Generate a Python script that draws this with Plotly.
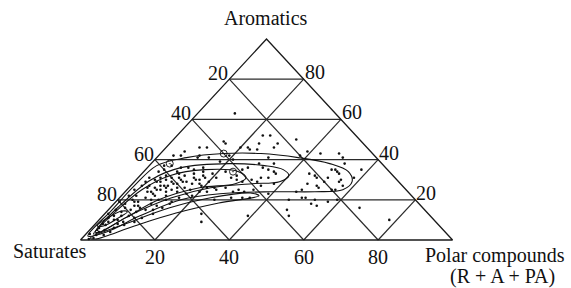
import plotly.graph_objects as go

# ---------------- data (percent) ----------------
tick_values = [20, 40, 60, 80]
tick_labels = ["20", "40", "60", "80"]

axis_saturates = "Saturates"
axis_aromatics = "Aromatics"
axis_polar_1 = "Polar compounds"
axis_polar_2 = "(R + A + PA)"

# samples: polar compounds and aromatics content (%), saturates = remainder
polar = [10, 23, 25, 29, 33, 14, 9, 11, 22, 25, 39, 43, 4, 6, 11, 19, 30, 38,
         24, 29, 20, 15, 23, 48, 52, 58, 50, 58, 45, 47, 51, 50, 51, 52, 53,
         55, 57, 50, 51, 47, 55, 56, 47, 48, 51, 55, 46, 49, 50, 53, 55, 59,
         48, 50, 29, 33, 35, 36, 33, 35, 31, 33, 38, 26, 26, 27, 31, 33, 24,
         30, 34, 30, 39, 46, 35, 53, 57, 39, 67, 78, 6, 11, 14, 6, 9, 11, 13,
         15, 17, 19, 21, 22, 25, 27, 29, 35, 17, 16, 14, 11, 9, 10, 13, 21,
         23, 26, 29, 32, 22, 20, 33, 26, 28, 4, 4, 7, 3, 6, 8, 10, 3, 2, 6, 8,
         12, 2, 1, 3, 5, 2, 4, 6, 2, 4, 3, 2, 3, 5, 6, 6, 8, 11, 13, 14, 15, 3,
         2, 6, 14, 12, 17, 9, 7, 16, 26, 7, 10, 2, 5, 9, 5, 7, 9, 11, 4, 7, 10,
         12, 5, 8, 3, 1, 7, 12, 15, 18, 19, 16, 18, 21,
         3, 5, 8, 10, 12, 14, 16, 18, 20, 5, 8, 10, 12, 15, 17, 19, 4, 6, 9,
         11, 13, 15, 4, 6, 8, 10, 12, 3, 5, 7, 9, 2, 4, 6, 1, 3, 7, 9, 11, 13]
aromatics = [63, 52, 52, 48, 50, 49, 46, 46, 46, 45, 44, 43, 42, 42, 42, 42, 41,
             42, 48, 46, 46, 48, 45, 43, 38, 35, 41, 31, 33, 32, 31, 35, 35, 34,
             33, 29, 27, 27, 26, 28, 25, 25, 25, 31, 29, 30, 24, 21, 21, 20, 17,
             20, 15, 12, 38, 35, 34, 33, 31, 31, 30, 29, 28, 35, 32, 36, 36, 38,
             25, 25, 25, 21, 23, 20, 21, 18, 19, 12, 16, 10, 44, 41, 41, 37, 36,
             36, 35, 36, 32, 33, 31, 34, 31, 30, 29, 27, 30, 28, 29, 31, 31, 27,
             26, 26, 26, 26, 24, 24, 24, 24, 21, 13, 9, 37, 34, 32, 31, 29, 27,
             29, 27, 25, 24, 23, 22, 22, 19, 18, 19, 15, 14, 15, 11, 10, 7.5, 5,
             2.5, 2.5, 4, 6, 7.5, 11, 13, 16, 18, 1, 0.5, 31, 24, 32, 25, 20, 17,
             21, 20, 12, 9, 6, 35, 34, 27, 26, 25, 24, 22, 21, 18, 17, 12, 14, 9,
             13, 29, 28, 31, 28, 27, 34, 39, 40,
             29, 30, 30, 33, 30, 33, 30, 31, 29, 26, 25, 26, 25, 26, 23, 22, 20,
             19, 22, 20, 20, 19, 16, 17, 16, 15, 15, 12, 10, 9, 11, 8, 5, 8, 3, 4,
             24, 27, 28, 29]
saturates = [100 - a - p for a, p in zip(aromatics, polar)]

# group means (circled symbols)
mean_polar = [5, 17, 24]
mean_aromatics = [38, 43, 34]

# contour loops (polar %, aromatics %)
loop_a_polar = [1, 1, 1, 2, 8, 17, 27, 38, 48, 55, 58.5, 58, 51, 39, 26, 17, 10, 5]
loop_a_arom = [2, 15, 27, 37, 41, 43, 43, 41, 38, 34, 29, 25, 24, 24, 23, 20, 12, 4]

loop_b_polar = [2, 2, 4, 9, 21, 31, 37, 40, 39, 32, 22, 14, 7, 3.4]
loop_b_arom = [4, 17, 30, 36, 38, 37, 35, 32, 29, 28, 26, 21, 12, 4]

loop_c_polar = [2, 2.4, 4, 8, 16, 25.5, 29, 27.6, 19, 11, 6.6, 3]
loop_c_arom = [3, 14, 25, 32, 35, 34, 31, 28, 26, 20, 11, 3.5]

loop_d_polar = [2.2, 9, 16, 24.5, 34, 37, 28, 19, 11, 3.8]
loop_d_arom = [1, 9, 16, 21, 23.4, 22, 18.4, 13.4, 7, 0.5]

loop_e_polar = [1, 2, 4, 5.6, 4.7, 2.7]
loop_e_arom = [7, 11.4, 14.4, 14, 11, 7]

loops = [(loop_a_polar, loop_a_arom), (loop_b_polar, loop_b_arom),
         (loop_c_polar, loop_c_arom), (loop_d_polar, loop_d_arom),
         (loop_e_polar, loop_e_arom)]


# ---------------- helpers ----------------
def to_xy(sat, aro, pol):
    tot = sat + aro + pol
    return (pol + aro / 2.0) / tot, aro / tot


def pts_xy(pols, aros):
    xs, ys = [], []
    for p, a in zip(pols, aros):
        x, y = to_xy(100 - p - a, a, p)
        xs.append(x)
        ys.append(y)
    return xs, ys


FONT = "Liberation Serif"
INK = "#111111"

fig = go.Figure()

# triangular grid
gx, gy = [], []
for t in tick_values:
    segs = [((100 - t, t, 0), (0, t, 100 - t)),      # constant aromatics
            ((100 - t, 0, t), (0, 100 - t, t)),      # constant polar
            ((t, 0, 100 - t), (t, 100 - t, 0))]      # constant saturates
    for a, b in segs:
        x0, y0 = to_xy(*a)
        x1, y1 = to_xy(*b)
        gx += [x0, x1, None]
        gy += [y0, y1, None]
fig.add_trace(go.Scatter(x=gx, y=gy, mode="lines",
                         line=dict(color="#2a2a2a", width=1.2),
                         hoverinfo="skip", showlegend=False))

# outer triangle
verts = [(100, 0, 0), (0, 0, 100), (0, 100, 0), (100, 0, 0)]
tx, ty = zip(*[to_xy(*v) for v in verts])
fig.add_trace(go.Scatter(x=list(tx), y=list(ty), mode="lines",
                         line=dict(color="#1a1a1a", width=1.3),
                         hoverinfo="skip", showlegend=False))

# contour loops
for lp, la in loops:
    xs, ys = pts_xy(lp + [lp[0]], la + [la[0]])
    fig.add_trace(go.Scatter(x=xs, y=ys, mode="lines",
                             line=dict(color=INK, width=1.1, shape="spline", smoothing=1.0),
                             hoverinfo="skip", showlegend=False))

# samples
sx, sy = [], []
for s, a, p in zip(saturates, aromatics, polar):
    x, y = to_xy(s, a, p)
    sx.append(x)
    sy.append(y)
fig.add_trace(go.Scatter(x=sx, y=sy, mode="markers",
                         marker=dict(color=INK, size=2.6),
                         showlegend=False))

# group means
mx, my = pts_xy(mean_polar, mean_aromatics)
fig.add_trace(go.Scatter(x=mx, y=my, mode="markers",
                         marker=dict(symbol="circle-open-dot", color=INK, size=7,
                                     line=dict(width=0.9, color=INK)),
                         showlegend=False))

# ---------------- labels ----------------
ann = []
tf = dict(family=FONT, size=20, color=INK)
for v, lab in zip(tick_values, tick_labels):
    # left edge: saturates
    x, y = to_xy(v, 100 - v, 0)
    ann.append(dict(x=x, y=y, text=lab, showarrow=False, xanchor="right",
                    yanchor="middle", xshift=1, yshift=6, font=tf))
    # right edge: aromatics
    x, y = to_xy(0, v, 100 - v)
    ann.append(dict(x=x, y=y, text=lab, showarrow=False, xanchor="left",
                    yanchor="middle", xshift=-1, yshift=7, font=tf))
    # bottom: polar
    x, y = to_xy(100 - v, 0, v)
    ann.append(dict(x=x, y=y, text=lab, showarrow=False, xanchor="center",
                    yanchor="middle", yshift=-17, font=tf))

x, y = to_xy(0, 100, 0)
ann.append(dict(x=x, y=y, text=axis_aromatics, showarrow=False, xanchor="center",
                yanchor="middle", xshift=-1, yshift=21, font=tf))
x, y = to_xy(100, 0, 0)
ann.append(dict(x=x, y=y, text=axis_saturates, showarrow=False, xanchor="center",
                yanchor="middle", xshift=-30, yshift=-11, font=tf))
x, y = to_xy(0, 0, 100)
ann.append(dict(x=x, y=y, text=axis_polar_1, showarrow=False, xanchor="center",
                yanchor="middle", xshift=42, yshift=-16, font=tf))
ann.append(dict(x=x, y=y, text=axis_polar_2, showarrow=False, xanchor="center",
                yanchor="middle", xshift=50, yshift=-37, font=tf))

fig.update_layout(
    width=571, height=288,
    margin=dict(l=72.54, r=110.54, t=34.98, b=43.98, pad=0),
    paper_bgcolor="white", plot_bgcolor="white",
    xaxis=dict(range=[-0.02, 1.02], visible=False, fixedrange=True),
    yaxis=dict(range=[-0.02, 1.02], visible=False, fixedrange=True),
    annotations=ann,
    showlegend=False,
)

fig.write_html("out.html", config={"displayModeBar": False},
               post_script="document.body.style.margin='0';document.body.style.overflow='hidden';")
